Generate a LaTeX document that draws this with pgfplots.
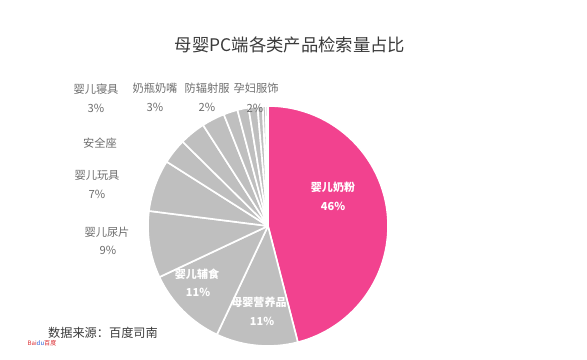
\documentclass[border=0pt]{standalone}
\usepackage{pgfplots}
\pgfplotsset{compat=1.18}
\usepackage{pgfplotstable}
\usepackage{fontspec}
\setmainfont{Noto Sans CJK SC}
\definecolor{pinkc}{HTML}{F2428F}
\definecolor{greyc}{HTML}{BFBFBF}
\definecolor{labc}{HTML}{6E6E6E}
\definecolor{titc}{HTML}{3A3A3A}
\definecolor{bdred}{HTML}{D9262B}
\definecolor{bdblue}{HTML}{2B5FD9}

% share of each category (percent), clockwise from 12 o'clock
\pgfplotstableread{
name value color
naifen 46 pinkc
yingyang 11 greyc
fushi 11 greyc
niaopian 9 greyc
wanju 7 greyc
anquanzuo 3.4 greyc
qinju 3.5 greyc
naiping 3.1 greyc
fangfushe 1.9 greyc
yunfu 1.5 greyc
o1 1.2 greyc
o2 0.7 greyc
o3 0.4 greyc
o4 0.3 greyc
}\piedata

\newcommand\lab[1]{{\fontsize{4.8}{6}\selectfont\color{labc}#1}}
\newcommand\inl[1]{{\fontsize{4.7}{6}\selectfont\bfseries\color{white}#1}}

\begin{document}
\begin{tikzpicture}
\begin{axis}[
  x=0.015cm, y=0.015cm, y dir=reverse,
  xmin=0, xmax=587, ymin=0, ymax=360,
  hide axis, clip=false, scale only axis,
]
\path (axis cs:0,0) rectangle (axis cs:587,360);
\def\curang{90}
\pgfplotstablegetrowsof{\piedata}
\pgfmathtruncatemacro\nrows{\pgfplotsretval-1}
\pgfplotsforeachungrouped \i in {0,...,\nrows}{%
  \pgfplotstablegetelem{\i}{value}\of\piedata
  \pgfmathsetmacro\endang{\curang-3.6*\pgfplotsretval}%
  \pgfplotstablegetelem{\i}{color}\of\piedata
  \edef\temp{\noexpand\filldraw[fill=\pgfplotsretval, draw=white, line width=0.7pt, line join=round]
    (axis cs:268,226) -- ++(\curang:1.8cm) arc[start angle=\curang, end angle=\endang, radius=1.8cm] -- cycle;}%
  \temp
  \global\let\curang\endang
}

% title
\node at (axis cs:290,45) {\fontsize{7.4}{9}\selectfont\color{titc}母婴PC端各类产品检索量占比};

% inside labels
\node at (axis cs:333,187) {\inl{婴儿奶粉}};
\node at (axis cs:333,206) {\inl{46\%}};
\node at (axis cs:259,302) {\inl{母婴营养品}};
\node at (axis cs:262,321) {\inl{11\%}};
\node at (axis cs:197,274) {\inl{婴儿辅食}};
\node at (axis cs:198,292) {\inl{11\%}};

% outside labels
\node at (axis cs:107,232) {\lab{婴儿尿片}};
\node at (axis cs:108,250) {\lab{9\%}};
\node at (axis cs:97,175) {\lab{婴儿玩具}};
\node at (axis cs:97,194) {\lab{7\%}};
\node at (axis cs:100,143) {\lab{安全座}};
\node at (axis cs:96,89) {\lab{婴儿寝具}};
\node at (axis cs:96,108) {\lab{3\%}};
\node at (axis cs:155,88) {\lab{奶瓶奶嘴}};
\node at (axis cs:155,107) {\lab{3\%}};
\node at (axis cs:207,88) {\lab{防辐射服}};
\node at (axis cs:207,107) {\lab{2\%}};
\node at (axis cs:256,88) {\lab{孕妇服饰}};
\node at (axis cs:255,108) {\lab{2\%}};

% source
\node at (axis cs:103,333) {\fontsize{5.2}{6}\selectfont\color{titc}数据来源：百度司南};
\node at (axis cs:42,343) {\fontsize{2.6}{3}\selectfont{\color{bdred}Bai}{\color{bdblue}du}{\color{bdred}百度}};
\end{axis}
\end{tikzpicture}
\end{document}
